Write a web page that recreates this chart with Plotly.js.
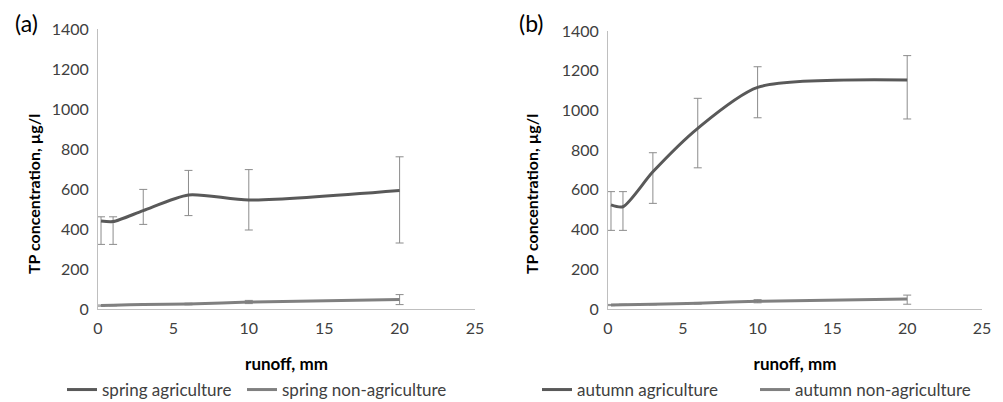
<!DOCTYPE html>
<html>
<head>
<meta charset="utf-8">
<script src="https://cdn.plot.ly/plotly-3.0.1.min.js"></script>
<style>html,body{margin:0;padding:0;background:#fff;}#chart{width:1003px;height:402px;}</style>
</head>
<body>
<div id="chart"></div>
<script>
// Runoff (mm) at each sampling point
const runoff = [0.2, 1, 3, 6, 10, 20];
const runoffNonAgri = [0.2, 1, 3, 6, 10, 20];

// (a) spring
const springAgri = [440, 437, 492, 570, 545, 593];
const springAgriErrPlus = [21, 24, 106, 123, 152, 168];
const springAgriErrMinus = [117, 114, 69, 103, 150, 263];
const springNonAgri = [17, 19, 22, 25, 35, 48];
const springNonAgriErrPlus = [3, 3, 3, 4, 8, 24];
const springNonAgriErrMinus = [3, 3, 3, 4, 8, 26];

// (b) autumn
const autumnAgri = [524, 515, 691, 910, 1116, 1153];
const autumnAgriErrPlus = [67, 76, 96, 151, 104, 123];
const autumnAgriErrMinus = [128, 119, 159, 199, 153, 196];
const autumnNonAgri = [20, 21, 24, 29, 39, 50];
const autumnNonAgriErrPlus = [3, 3, 3, 4, 8, 20];
const autumnNonAgriErrMinus = [3, 3, 3, 4, 8, 26];

const xTickVals = [0, 5, 10, 15, 20, 25];
const yTickVals = [0, 200, 400, 600, 800, 1000, 1200, 1400];

const FONT = 'Lato, "Open Sans", sans-serif';
const AGRI = '#595959';
const NONAGRI = '#808080';
const ERR = '#8c8c8c';

function series(x, y, plus, minus, name, color, xa, ya, leg) {
  return {
    type: 'scatter', mode: 'lines', x: x, y: y, name: name,
    xaxis: xa, yaxis: ya, legend: leg,
    line: {color: color, width: 3, shape: 'spline', smoothing: 0.7},
    error_y: {type: 'data', symmetric: false, array: plus, arrayminus: minus,
              color: ERR, thickness: 1, width: 4},
    hoverinfo: 'x+y'
  };
}

const data = [
  series(runoff, springAgri, springAgriErrPlus, springAgriErrMinus, 'spring agriculture', AGRI, 'x', 'y', 'legend'),
  series(runoffNonAgri, springNonAgri, springNonAgriErrPlus, springNonAgriErrMinus, 'spring non-agriculture', NONAGRI, 'x', 'y', 'legend2'),
  series(runoff, autumnAgri, autumnAgriErrPlus, autumnAgriErrMinus, 'autumn agriculture', AGRI, 'x2', 'y2', 'legend3'),
  series(runoffNonAgri, autumnNonAgri, autumnNonAgriErrPlus, autumnNonAgriErrMinus, 'autumn non-agriculture', NONAGRI, 'x2', 'y2', 'legend4')
];

const W = 1003, H = 402;
function xa(d0, d1, anchor) {
  return {
    domain: [d0 / W, d1 / W], anchor: anchor, range: [0, 25],
    tickvals: xTickVals, ticks: '', showgrid: false, zeroline: false,
    showline: true, linecolor: '#bfbfbf', linewidth: 1,
    tickfont: {family: FONT, size: 16, color: '#404040'},
    ticklabelstandoff: 5,
    automargin: false,
    title: {text: 'runoff, mm', font: {family: FONT, size: 17, color: '#000', weight: 'bold'}, standoff: 21},
    fixedrange: true
  };
}
function ya(top, anchor) {
  return {
    domain: [1 - 309 / H, 1 - top / H], anchor: anchor, range: [0, 1400],
    tickvals: yTickVals, ticks: '', showgrid: false, zeroline: false,
    showline: true, linecolor: '#bfbfbf', linewidth: 1,
    tickfont: {family: FONT, size: 16, color: '#404040'},
    ticklabelstandoff: 5,
    automargin: false,
    fixedrange: true
  };
}
function leg(px) {
  return {orientation: 'h', x: px / W, xanchor: 'left', y: 1 - 390 / H, yanchor: 'middle',
          font: {family: FONT, size: 17, color: '#404040'}, bgcolor: 'rgba(0,0,0,0)', itemwidth: 30};
}

const layout = {
  width: W, height: H,
  margin: {l: 0, r: 0, t: 0, b: 0, autoexpand: false},
  paper_bgcolor: '#fff', plot_bgcolor: '#fff',
  showlegend: true,
  font: {family: FONT, color: '#404040'},
  xaxis: xa(98, 475, 'y'),
  yaxis: ya(29, 'x'),
  xaxis2: xa(608, 982, 'y2'),
  yaxis2: ya(31, 'x2'),
  legend: leg(62),
  legend2: leg(242),
  legend3: leg(537),
  legend4: leg(755),
  annotations: [
    {text: '(a)', xref: 'paper', yref: 'paper', x: 26 / W, y: 1 - 23 / H, xanchor: 'center', yanchor: 'middle',
     showarrow: false, font: {family: FONT, size: 23, color: '#000'}},
    {text: '(b)', xref: 'paper', yref: 'paper', x: 531 / W, y: 1 - 23 / H, xanchor: 'center', yanchor: 'middle',
     showarrow: false, font: {family: FONT, size: 23, color: '#000'}},
    {text: 'TP concentration, µg/l', xref: 'paper', yref: 'paper', x: 33 / W, y: 1 - 194 / H,
     xanchor: 'center', yanchor: 'middle',
     textangle: -90, showarrow: false, font: {family: FONT, size: 16, color: '#000', weight: 'bold'}},
    {text: 'TP concentration, µg/l', xref: 'paper', yref: 'paper', x: 531 / W, y: 1 - 194 / H,
     xanchor: 'center', yanchor: 'middle',
     textangle: -90, showarrow: false, font: {family: FONT, size: 16, color: '#000', weight: 'bold'}}
  ]
};

Plotly.newPlot('chart', data, layout, {displayModeBar: false, staticPlot: true});
</script>
</body>
</html>
